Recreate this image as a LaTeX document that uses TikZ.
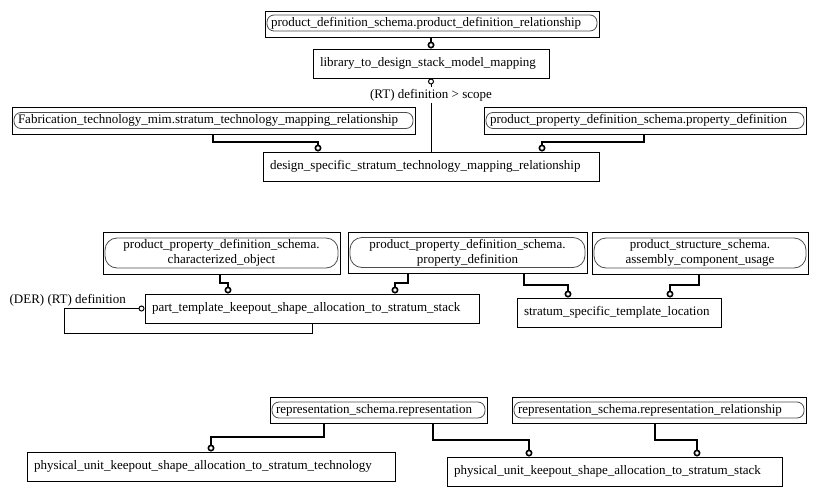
\documentclass[tikz,border=0pt]{standalone}
\usepackage{fontspec}
\setmainfont{Liberation Serif}
\usetikzlibrary{arrows.meta}
\newlength\px
\setlength\px{0.75pt}

\begin{document}
\begin{tikzpicture}[x=0.75pt, y=-0.75pt, font=\fontsize{9.75}{11.5}\selectfont,
	entity/.style={draw, line width=0.75pt, inner xsep=7\px, inner ysep=0pt, minimum height=29\px, align=left},
	schemabox/.style={draw, line width=0.75pt, inner sep=0pt},
	schemapill/.style={draw=gray!60!black, line width=0.6pt, inner xsep=4\px, inner ysep=0pt, rounded corners=7\px, minimum height=16\px, align=left},
	twoline/.style={rounded corners=12\px, minimum height=30\px, align=center},
	link/.style={line width=1.6pt, -{Circle[open, length=5.2pt, width=5.2pt, line width=1.2pt]}},
	thinlink/.style={line width=0.75pt}]
	
	\useasboundingbox (0,0) rectangle (817,496);
	
	% 上部
	\node[schemabox, minimum width=334\px, minimum height=26\px] (pdr) at (432,24) {};
	\node[schemapill, text width=322\px] (pdrin) at (432,23) {product\_definition\_schema.product\_definition\_relationship};
	\node[entity, text width=222\px] (lib) at (431,63.5) {library\_to\_design\_stack\_model\_mapping};
	\node[schemabox, minimum width=403\px, minimum height=27\px] (fab) at (213.5,120.5) {};
	\node[schemapill, text width=391\px] (fabin) at (213.5,120.5) {Fabrication\_technology\_mim.stratum\_technology\_mapping\_relationship};
	\node[schemabox, minimum width=322\px, minimum height=27\px] (ppdtop) at (645,120.5) {};
	\node[schemapill, text width=310\px] (ppdtopin) at (645,120.5) {product\_property\_definition\_schema.property\_definition};
	\node[entity, text width=322\px] (design) at (431,166.5) {design\_specific\_stratum\_technology\_mapping\_relationship};
	\node[inner sep=1pt] (rtlab) at (431,95) {(RT) definition > scope};
	
	\draw[link] (431,0 |- pdr.south) -- (431,0 |- lib.north);
	\draw[link] (213,0 |- fab.south) -- (213,142) -| (318,0 |- design.north);
	\draw[link] (644,0 |- ppdtop.south) -- (644,142) -| (542,0 |- design.north);
	\draw[thinlink, {Circle[open, length=4.5pt, width=4.5pt]}-] (lib.south) -- (rtlab.north);
	\draw[thinlink] (rtlab.south) -- (design.north);
	
	% 中部
	\node[schemabox, minimum width=237\px, minimum height=42\px] (char) at (221.5,253) {};
	\node[schemapill, twoline, text width=225\px] (charin) at (221.5,253) {product\_property\_definition\_schema.\\characterized\_object};
	\node[schemabox, minimum width=239\px, minimum height=41\px] (ppdmid) at (467.5,252.5) {};
	\node[schemapill, twoline, text width=227\px] (ppdmidin) at (467.5,252.5) {product\_property\_definition\_schema.\\property\_definition};
	\node[schemabox, minimum width=216\px, minimum height=42\px] (ps) at (700,253) {};
	\node[schemapill, twoline, text width=204\px] (psin) at (700,253) {product\_structure\_schema.\\assembly\_component\_usage};
	\node[entity, text width=320\px] (pt) at (312,308.5) {part\_template\_keepout\_shape\_allocation\_to\_stratum\_stack};
	\node[entity, text width=190\px] (stl) at (619,312.5) {stratum\_specific\_template\_location};
	\node[anchor=west, inner sep=1pt] (derlab) at (8,300) {(DER) (RT) definition};
	
	\draw[link] (220,0 |- char.south) -- (220,283) -| (228,0 |- pt.north);
	\draw[link] (408,0 |- ppdmid.south) -- (408,283) -| (395,0 |- pt.north);
	\draw[link] (524,0 |- ppdmid.south) -- (524,285) -| (568,0 |- stl.north);
	\draw[link] (699,0 |- ps.south) -- (699,285) -| (670,0 |- stl.north);
	\draw[thinlink, {Circle[open, length=4.5pt, width=4.5pt]}-] (pt.west) -- (64,0 |- pt.west) |- (312,333) -- (pt.south);
	
	% 下部
	\node[schemabox, minimum width=217\px, minimum height=26\px] (rep) at (378.5,410) {};
	\node[schemapill, text width=205\px] (repin) at (378.5,410) {representation\_schema.representation};
	\node[schemabox, minimum width=294\px, minimum height=26\px] (reprel) at (659,410) {};
	\node[schemapill, text width=282\px] (reprelin) at (659,410) {representation\_schema.representation\_relationship};
	\node[entity, text width=354\px] (pttech) at (211,466.5) {physical\_unit\_keepout\_shape\_allocation\_to\_stratum\_technology};
	\node[entity, text width=321\px] (ptstack) at (614.5,471.5) {physical\_unit\_keepout\_shape\_allocation\_to\_stratum\_stack};
	
	\draw[link] (324,0 |- rep.south) -- (324,437) -| (211,0 |- pttech.north);
	\draw[link] (433,0 |- rep.south) -- (433,440) -| (529,0 |- ptstack.north);
	\draw[link] (655,0 |- reprel.south) -- (655,440) -| (697,0 |- ptstack.north);
\end{tikzpicture}
\end{document}
